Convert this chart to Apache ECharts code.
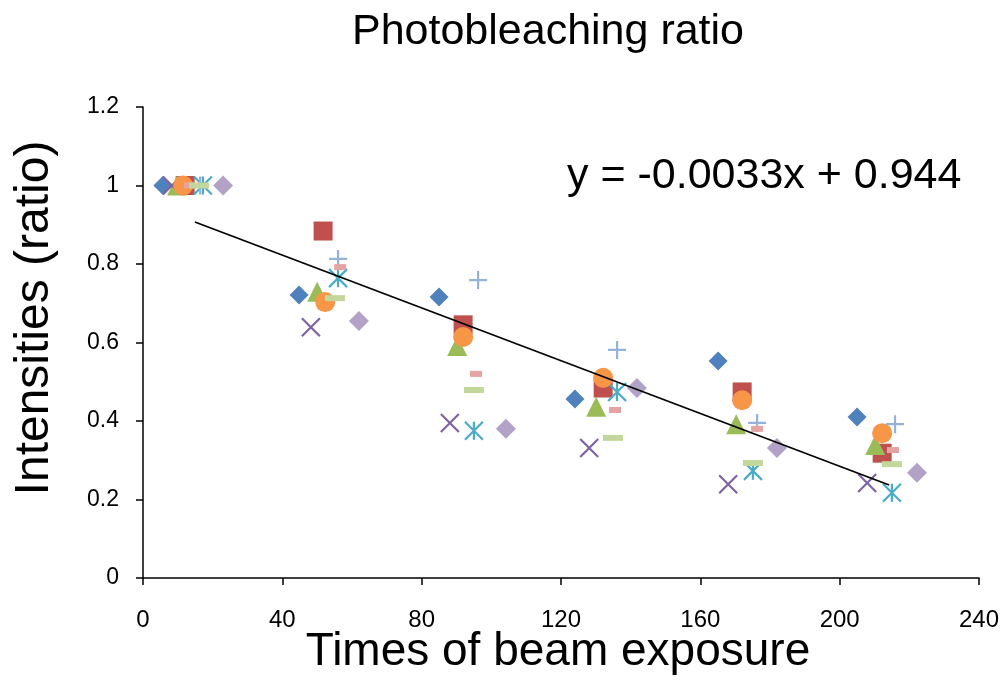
<!DOCTYPE html>
<html>
<head>
<meta charset="utf-8">
<script src="https://cdn.jsdelivr.net/npm/echarts@6/dist/echarts.min.js"></script>
<style>html,body{margin:0;padding:0;background:#fff}#c{width:1006px;height:700px}</style>
</head>
<body>
<div id="c"></div>
<script>
// ---- data ----
const xTicks = [0, 40, 80, 120, 160, 200, 240];
const yTicks = [0, 0.2, 0.4, 0.6, 0.8, 1, 1.2];

const blueDiamondX = [5.7, 44.8, 85.0, 124.0, 165.1, 205.0];
const blueDiamondY = [1.0, 0.721, 0.716, 0.456, 0.553, 0.410];
const redSquareX = [12.1, 51.7, 91.9, 132.1, 172.0, 212.2];
const redSquareY = [1.0, 0.884, 0.645, 0.484, 0.474, 0.318];
const greenTriangleX = [9.8, 50.0, 90.2, 130.1, 170.3, 210.2];
const greenTriangleY = [1.0, 0.729, 0.591, 0.436, 0.392, 0.339];
const purpleCrossX = [8.3, 48.2, 88.1, 128.1, 168.0, 207.9];
const purpleCrossY = [1.0, 0.639, 0.395, 0.331, 0.239, 0.242];
const tealStarX = [17.2, 56.0, 95.0, 136.1, 175.1, 215.0];
const tealStarY = [1.0, 0.764, 0.375, 0.474, 0.273, 0.217];
const orangeCircleX = [11.5, 52.3, 91.9, 132.1, 172.0, 212.2];
const orangeCircleY = [1.0, 0.703, 0.614, 0.510, 0.453, 0.369];
const bluePlusX = [16.4, 56.0, 96.2, 136.1, 176.3, 215.9];
const bluePlusY = [1.0, 0.813, 0.759, 0.581, 0.395, 0.392];
const redDashX = [13.5, 56.6, 95.6, 135.5, 176.3, 215.3];
const redDashY = [1.0, 0.792, 0.520, 0.428, 0.380, 0.326];
const greenDashX = [16.1, 55.1, 95.0, 134.9, 175.1, 215.0];
const greenDashY = [1.0, 0.713, 0.479, 0.357, 0.293, 0.290];
const lilacDiamondX = [23.0, 62.0, 104.2, 141.8, 182.0, 222.2];
const lilacDiamondY = [1.0, 0.655, 0.380, 0.484, 0.331, 0.268];

const trendX = [14.9, 214.2];
const trendY = [0.907, 0.237];

const titleText = 'Photobleaching ratio';
const xName = 'Times of beam exposure';
const yName = 'Intensities (ratio)';
const equationText = 'y = -0.0033x + 0.944';

// ---- chart ----
const FONT = '"Liberation Sans", Arial, Helvetica, sans-serif';
const zip = (xs, ys) => xs.map((x, i) => [x, ys[i]]);

const SYM_X = 'path://M0,0L10,10M10,0L0,10';
const SYM_STAR = 'path://M0,0L10,10M10,0L0,10M5,0L5,10';
const SYM_PLUS = 'path://M5,0L5,10M0,5L10,5';

function filled(name, xs, ys, symbol, size, color) {
  return { name, type: 'scatter', data: zip(xs, ys), symbol, symbolSize: size,
    itemStyle: { color, opacity: 1 }, emphasis: { disabled: true } };
}
function stroked(name, xs, ys, symbol, size, color) {
  return { name, type: 'scatter', data: zip(xs, ys), symbol, symbolSize: size,
    itemStyle: { color: color, borderColor: color, borderWidth: 2.2, opacity: 1 },
    emphasis: { disabled: true } };
}

const chart = echarts.init(document.getElementById('c'), null, { renderer: 'canvas' });
chart.setOption({
  animation: false,
  backgroundColor: '#ffffff',
  grid: { left: 143, top: 107, width: 836, height: 471, containLabel: false },
  xAxis: {
    type: 'value', min: xTicks[0], max: xTicks[xTicks.length - 1], interval: 40,
    axisLine: { show: true, onZero: false, lineStyle: { color: '#000', width: 1.5 } },
    axisTick: { show: true, inside: false, length: 7, lineStyle: { color: '#000', width: 1.5 } },
    axisLabel: { color: '#000', fontFamily: FONT, fontSize: 24, margin: 30 },
    splitLine: { show: false }
  },
  yAxis: {
    type: 'value', min: yTicks[0], max: yTicks[yTicks.length - 1], interval: 0.2,
    axisLine: { show: true, onZero: false, lineStyle: { color: '#000', width: 1.5 } },
    axisTick: { show: true, inside: false, length: 7, lineStyle: { color: '#000', width: 1.5 } },
    axisLabel: { color: '#000', fontFamily: FONT, fontSize: 23, margin: 24 },
    splitLine: { show: false }
  },
  graphic: [
    { type: 'text', x: 548, y: 32,
      style: { text: titleText, font: '43px ' + FONT, fill: '#000', textAlign: 'center', textVerticalAlign: 'middle' } },
    { type: 'text', x: 567, y: 176,
      style: { text: equationText, font: '43px ' + FONT, fill: '#000', textAlign: 'left', textVerticalAlign: 'middle' } },
    { type: 'text', x: 558, y: 652,
      style: { text: xName, font: '46px ' + FONT, fill: '#000', textAlign: 'center', textVerticalAlign: 'middle' } },
    { type: 'text', x: 35, y: 318, rotation: Math.PI / 2,
      style: { text: yName, font: '48px ' + FONT, fill: '#000', textAlign: 'center', textVerticalAlign: 'middle' } }
  ],
  series: [
    filled('s1', blueDiamondX, blueDiamondY, 'diamond', 19, '#4F81BD'),
    filled('s2', redSquareX, redSquareY, 'rect', 19, '#C0504D'),
    filled('s3', greenTriangleX, greenTriangleY, 'triangle', 20, '#9BBB59'),
    stroked('s4', purpleCrossX, purpleCrossY, SYM_X, 18, '#8064A2'),
    stroked('s5', tealStarX, tealStarY, SYM_STAR, 18, '#4BACC6'),
    filled('s6', orangeCircleX, orangeCircleY, 'circle', 20, '#F79646'),
    stroked('s7', bluePlusX, bluePlusY, SYM_PLUS, 18, '#95B3D7'),
    filled('s8', redDashX, redDashY, 'rect', [12, 6], '#E6A3A3'),
    filled('s9', greenDashX, greenDashY, 'rect', [20, 6], '#C3D69B'),
    filled('s10', lilacDiamondX, lilacDiamondY, 'diamond', 20, '#B3A2C7'),
    { name: 'trend', type: 'line', data: zip(trendX, trendY), showSymbol: false, symbol: 'none',
      lineStyle: { color: '#000', width: 1.8 }, silent: true, z: 3 }
  ]
});
</script>
</body>
</html>
